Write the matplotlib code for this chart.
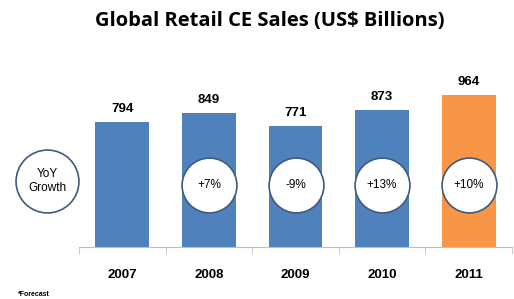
import matplotlib.pyplot as plt
import numpy as np

years = ['2007', '2008', '2009', '2010', '2011']
sales = [794, 849, 771, 873, 964]
growth = ['', '+7%', '-9%', '+13%', '+10%']
colors = ['#4f81bd', '#4f81bd', '#4f81bd', '#4f81bd', '#f79646']

fig = plt.figure(figsize=(5.14, 2.99), dpi=100)
ax = fig.add_axes([79 / 514, 52 / 299, 433 / 514, 189 / 299])

x = np.arange(len(years))
bars = ax.bar(x, sales, width=0.62, color=colors)
ax.set_xlim(-0.5, 4.5)
ax.set_ylim(0, 1200)

# value labels on top of the bars
for xi, v in zip(x, sales):
    ax.annotate(str(v), (xi, v), xytext=(0, 5), textcoords='offset points',
                ha='center', va='bottom', fontsize=9.5, fontweight='bold',
                family='Liberation Sans', clip_on=False)

# growth bubbles
circ_x = [xi for xi, g in zip(x, growth) if g]
circ_y = [394] * len(circ_x)
ax.scatter(circ_x, circ_y, s=1560, facecolor='white', edgecolor='#3f5b7f',
           linewidth=1.2, zorder=3, clip_on=False)
for xi, g in zip(x, growth):
    if g:
        ax.text(xi, 394, g, ha='center', va='center', fontsize=8.5,
                family='Liberation Sans', zorder=4)

ax.scatter([-0.87], [419], s=2050, facecolor='white', edgecolor='#3f5b7f',
           linewidth=1.2, zorder=3, clip_on=False)
ax.text(-0.87, 419, 'YoY\nGrowth', ha='center', va='center', fontsize=8.5,
        family='Liberation Sans', linespacing=1.3, zorder=4)

for s in ['top', 'right', 'left']:
    ax.spines[s].set_visible(False)
ax.spines['bottom'].set_color('#bfbfbf')
ax.set_yticks([])
ax.set_xticks(x)
ax.set_xticklabels(years, fontsize=9.5, fontweight='bold', family='Liberation Sans')
ax.tick_params(axis='x', which='major', length=0, pad=16)
ax.set_xticks(np.arange(-0.5, 5, 1), minor=True)
ax.tick_params(axis='x', which='minor', length=5, color='#bfbfbf')

fig.text(0.524, 0.93, 'Global Retail CE Sales (US$ Billions)', ha='center', va='center',
         fontsize=14.5, fontweight='bold', family='Open Sans')
fig.text(18 / 514, 1 - 294 / 299, '*Forecast', ha='left', va='center', fontsize=5,
         family='Liberation Sans', fontweight='bold')

fig.savefig('out.png', dpi=100)
